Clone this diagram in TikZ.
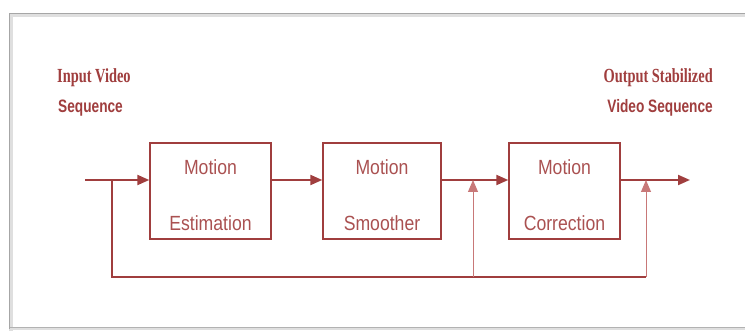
\documentclass[tikz,border=0pt]{standalone}
\usepackage{fontspec}
\usetikzlibrary{arrows.meta}
\newfontfamily\boxfont[FakeStretch=0.86]{Liberation Sans}
\newfontfamily\lblserif[FakeStretch=0.72]{Liberation Serif}
\newfontfamily\lblsans[FakeStretch=0.76]{Liberation Sans}
\definecolor{dred}{RGB}{160,62,62}
\definecolor{lred}{RGB}{200,120,120}
\tikzset{
  blk/.style={draw=dred, line width=1.4pt, minimum height=96pt, inner sep=0pt},
  main/.style={draw=dred, line width=2pt},
  fb/.style={draw=dred, line width=1.3pt},
  fbv/.style={draw=lred, line width=1pt},
  tip/.style={-{Triangle[length=12pt,width=10pt]}},
  btxt/.style={text=dred!90, anchor=base, inner sep=0pt, font=\boxfont\fontsize{20.5}{24}\selectfont},
  ltxt/.style={text=dred, anchor=base west, inner sep=0pt},
  rtxt/.style={text=dred, anchor=base east, inner sep=0pt}
}
\begin{document}
\begin{tikzpicture}[x=1pt,y=-1pt]
\useasboundingbox[fill=white] (0,0) rectangle (745,331);
% frame
\draw[gray!25, line width=4pt] (11,333) -- (11,15) -- (750,15);
\draw[gray!25, line width=3pt] (11,329) -- (750,329);
\draw[gray!70, line width=1.3pt] (9.5,329) -- (9.5,13.5) -- (750,13.5);
\draw[gray!60, line width=1pt] (9.5,328) -- (750,328);
% blocks
\node[blk, minimum width=121pt] (b1) at (210.5,191) {};
\node[blk, minimum width=118pt] (b2) at (382,191) {};
\node[blk, minimum width=111pt] (b3) at (564.5,191) {};
\node[btxt] (t1a) at (210.5,175) {Motion};
\node[btxt] (t1b) at (210.5,231) {Estimation};
\node[btxt] (t2a) at (382,175) {Motion};
\node[btxt] (t2b) at (382,231) {Smoother};
\node[btxt] (t3a) at (564.5,175) {Motion};
\node[btxt] (t3b) at (564.5,231) {Correction};
% labels
\node[ltxt, font=\lblserif\bfseries\fontsize{20}{22}\selectfont] (in1) at (57,83) {Input Video};
\node[ltxt, font=\lblsans\bfseries\fontsize{18}{20}\selectfont] (in2) at (58,113) {Sequence};
\node[rtxt, font=\lblserif\bfseries\fontsize{20}{22}\selectfont] (out1) at (713,83) {Output Stabilized};
\node[rtxt, font=\lblsans\bfseries\fontsize{18}{20}\selectfont] (out2) at (713,113) {Video Sequence};
% coordinates
\coordinate (in) at (85,180);
\coordinate (sp) at (112,180);
\coordinate (j1) at (473,180);
\coordinate (j2) at (646,180);
\coordinate (out) at (690,180);
\coordinate (sb) at (112,277);
\coordinate (jb1) at (473,277);
\coordinate (jb2) at (646,277);
% main path
\draw[main] (in) -- (sp);
\draw[main, tip] (sp) -- (sp -| b1.west);
\draw[main, tip] (b1.east |- sp) -- (b2.west |- sp);
\draw[main, tip] (b2.east |- sp) -- (b3.west |- sp);
\draw[main, tip] (b3.east |- sp) -- (out);
% feedback
\draw[fb] (sp) -- (sb) -- (jb2);
\draw[fbv, tip] (jb2) -- (j2);
\draw[fbv, tip] (jb1) -- (j1);
\end{tikzpicture}
\end{document}
